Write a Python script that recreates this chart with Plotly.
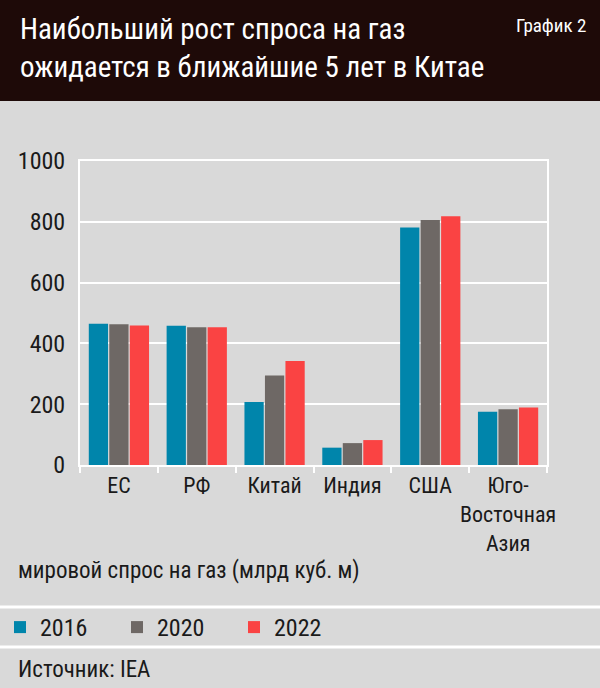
import plotly.graph_objects as go

# data ------------------------------------------------------------------------
regions = ["ЕС", "РФ", "Китай", "Индия", "США", "Юго-<br>Восточная<br>Азия"]
years = ["2016", "2020", "2022"]
demand_2016 = [465, 458, 207, 57, 781, 175]
demand_2020 = [463, 453, 294, 72, 806, 183]
demand_2022 = [459, 453, 342, 82, 818, 189]
colors = ["#0085ab", "#6e6865", "#fa4343"]

FONT = "Roboto Condensed, Roboto, sans-serif"
BG = "#d9d9d9"
W, H = 600, 688
(L, R, T, B) = (80, 53, 161, 223)


# pixel -> paper helpers for the decorations
def px_x(x):
    return (x - L) / (W - L - R)


def px_y(y):
    return (H - B - y) / (H - T - B)


fig = go.Figure()
for (yr, vals, c) in zip(years, [demand_2016, demand_2020, demand_2022], colors):
    fig.add_trace(go.Bar(
        x=regions, y=vals, name=yr,
        marker=dict(color=c, line=dict(width=0)),
    ))

# header band + separators
fig.add_shape(type="rect", xref="paper", yref="paper", layer="below",
              x0=px_x(0), x1=px_x(W), y0=px_y(101), y1=px_y(0),
              fillcolor="#1e0a08", line=dict(width=0))
for yy in (607, 647):
    fig.add_shape(type="line", xref="paper", yref="paper",
                  x0=px_x(0), x1=px_x(W), y0=px_y(yy), y1=px_y(yy),
                  line=dict(color="white", width=3))

notes = [
    ("Наибольший рост спроса на газ<br>ожидается в ближайшие 5 лет в Китае",
     18, 10, 29, "white", "left"),
    ("График 2", 588, 12, 19, "white", "right"),
    ("мировой спрос на газ (млрд куб. м)", 16, 555, 23, "#1a1a1a", "left"),
    ("Источник: IEA", 16, 654, 23, "#1a1a1a", "left"),
]
for (txt, xx, yy, sz, col, al) in notes:
    fig.add_annotation(text=txt, xref="paper", yref="paper",
                       x=px_x(xx), y=px_y(yy), xanchor=al, yanchor="top",
                       align=al, showarrow=False,
                       font=dict(family=FONT, size=sz, color=col))

fig.update_layout(
    width=W, height=H,
    margin=dict(l=L, r=R, t=T, b=B, autoexpand=False),
    paper_bgcolor=BG, plot_bgcolor=BG,
    font=dict(family=FONT, color="#1a1a1a"),
    barmode="group", bargap=0.21, bargroupgap=0.06,
    legend=dict(orientation="h", xref="container", yref="container",
                x=0.0, y=1 - 605 / H, xanchor="left", yanchor="top",
                font=dict(size=24), entrywidth=72, bgcolor="rgba(0,0,0,0)"),
    xaxis=dict(showline=True, linecolor="white", linewidth=2, mirror=True,
               ticks="outside", tickson="boundaries", tickcolor="white",
               ticklen=6, tickwidth=2, tickfont=dict(size=22),
               tickangle=0, showgrid=False),
    yaxis=dict(range=[0, 1000], dtick=200, showline=True, linecolor="white",
               linewidth=2, mirror=True, gridcolor="white", gridwidth=2,
               zeroline=False, tickfont=dict(size=24), ticks="",
               ticklabelstandoff=8),
)

# drop the default body margin so the figure sits at the window's corner
fig.write_html("out.html", config={"displayModeBar": False},
               post_script="document.body.style.margin='0';")
